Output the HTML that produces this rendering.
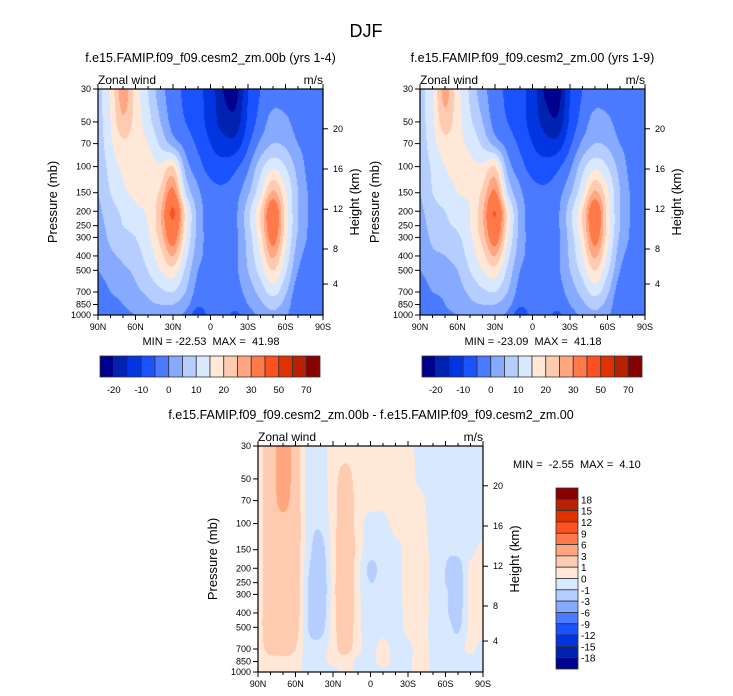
<!DOCTYPE html>
<html><head><meta charset="utf-8"><style>
html,body{margin:0;padding:0;background:#fff;}
#root{position:relative;width:733px;height:696px;overflow:hidden;font-family:"Liberation Sans",sans-serif;}
canvas{position:absolute;}
svg{position:absolute;left:0;top:0;}
</style></head><body>
<div id="root">
<canvas id="cA" width="225" height="226" style="left:98px;top:89px"></canvas>
<canvas id="cB" width="225" height="226" style="left:420px;top:89px"></canvas>
<canvas id="cD" width="225" height="226" style="left:258px;top:446px"></canvas>
<svg id="sv" width="733" height="696"></svg>
</div>
<script>
const lats=[90,80,70,60,50,40,30,20,10,0,-10,-20,-30,-40,-50,-60,-70,-80,-90];
const levels=[30,50,70,100,150,200,250,300,400,500,700,850,1000];
const windA=[
[ 8,16,28,18,10, 2,-3,-6,-9,-12,-20,-22,-10,-5,-3,-3,-3,-3,-3],
[ 8,15,24,18,12, 5,-2,-5,-8,-12,-17,-18,-9,-3, 2, 1,-2,-3,-3],
[ 7,14,19,17,15, 9, 3,-2,-6,-10,-13,-13,-6, 1, 5, 4, 0,-2,-3],
[ 6,12,16,17,17,16,20, 3,-3,-7,-8,-6,-1, 8,14,10, 3,-2,-3],
[ 5,10,14,16,17,21,32,10, 1,-3,-4,-2, 4,14,26,16, 5,-1,-3],
[ 4, 8,11,14,16,24,41,18, 3,-2,-3,-1, 8,20,36,18, 5,-1,-3],
[ 3, 7,10,12,15,24,38,18, 3,-2,-3,-1, 8,20,36,18, 5,-1,-3],
[ 2, 6, 8,10,14,22,34,16, 3,-2,-3,-1, 7,18,33,17, 4,-1,-3],
[ 1, 4, 6, 8,12,18,25,12, 2,-2,-3,-1, 6,15,26,14, 2,-2,-3],
[ 0, 2, 4, 6,10,15,18, 9, 0,-3,-3,-1, 5,12,20,11, 0,-4,-3],
[-2, 0, 2, 4, 6, 9,10, 5,-2,-3,-3,-2, 2, 7,12, 6,-3,-3,-3],
[-3,-2, 0, 2, 4, 5, 5, 2,-4,-3,-3,-3, 0, 4, 7, 3,-4,-3,-3],
[-4,-3,-1, 0, 1, 2, 1,-1,-8,-3,-3,-6,-2, 1, 4, 1,-4,-3,-3]];
const windB=[
[ 8,15,27,17, 9, 2,-3,-6,-9,-12,-21,-23,-10,-5,-3,-3,-3,-3,-3],
[ 8,14,23,17,11, 5,-2,-5,-8,-12,-17,-19,-9,-3, 2, 1,-2,-3,-3],
[ 7,13,18,16,14, 9, 3,-2,-6,-10,-13,-13,-6, 1, 5, 4, 0,-2,-3],
[ 6,11,15,16,16,16,20, 3,-3,-7,-8,-6,-1, 8,14,10, 3,-2,-3],
[ 5,10,13,15,16,21,31,10, 1,-3,-4,-2, 4,14,26,16, 5,-1,-3],
[ 4, 8,10,13,15,24,40,18, 3,-2,-3,-1, 8,20,36,18, 5,-1,-3],
[ 3, 7, 9,11,15,24,38,18, 3,-2,-3,-1, 8,20,36,18, 5,-1,-3],
[ 2, 6, 7, 9,14,22,34,16, 3,-2,-3,-1, 7,18,33,17, 4,-1,-3],
[ 1, 4, 5, 7,12,18,25,12, 2,-2,-3,-1, 6,15,26,14, 2,-2,-3],
[ 0, 2, 3, 5,10,15,18, 9, 0,-3,-3,-1, 5,12,20,11, 0,-4,-3],
[-2, 0, 1, 3, 6, 9,10, 5,-2,-3,-3,-2, 2, 7,12, 6,-3,-3,-3],
[-3,-2, 0, 2, 4, 5, 5, 2,-4,-3,-3,-3, 0, 4, 7, 3,-4,-3,-3],
[-4,-3,-1, 0, 1, 2, 1,-1,-8,-3,-3,-6,-2, 1, 4, 1,-4,-3,-3]];
const windDiff=[
[0.5,2,4,2,-0.5,-0.5,0.5,0.5,0.5,0.5,0.5,0.5,0.5,-0.5,-0.5,-0.5,-0.5,-0.5,-0.5],
[0.5,2,4,2,-0.5,-0.5,0.5,1.5,0.5,0.5,0.5,0.5,0.5,-0.3,-0.5,-0.5,-0.5,-0.5,-0.5],
[0.5,2,3.5,2,-0.5,-0.5,0.5,2,0.5,0.5,0.5,0.5,0.5,0.3,-0.5,-0.5,-0.5,-0.5,-0.5],
[0.5,2,2.5,2,-0.5,-0.8,0.5,2,0.5,-0.5,-0.5,0.5,0.5,0.5,-0.5,-0.5,-0.5,-0.5,-0.5],
[0.5,2,2,1.8,-0.5,-1.5,0.5,2.2,0.5,-0.5,-0.5,-0.5,0.5,0.5,-0.3,-0.8,-0.7,-0.3,0.3],
[0.5,2,2,1.8,-0.8,-1.8,0.5,2.4,0.3,-1.3,-0.5,-0.5,0.5,0.5,-0.3,-1,-1.5,0.3,0.5],
[0.5,2,2,1.8,-1,-2,0.5,2.5,0.3,-1,-0.5,-0.5,0.5,0.5,-0.3,-1,-1.6,0.3,0.5],
[0.5,2,2,1.8,-1,-2,0.5,2.5,0.3,-0.7,-0.5,-0.5,0.5,0.5,-0.3,-0.8,-1.6,0.3,0.5],
[0.5,2,2,1.8,-1,-1.8,0.5,2.3,0.3,-0.5,-0.5,-0.5,0.3,0.5,-0.3,-0.8,-1.5,0.3,0.5],
[0.5,2,2,1.6,-1,-1.5,0.5,2,0.3,-0.5,-0.5,-0.5,0.3,0.5,-0.3,-0.5,-1.2,0.3,0.5],
[0.5,1.5,1.8,1,-0.5,-0.5,0.5,1.5,0.3,-0.5,0.5,-0.5,-0.3,0.5,-0.3,-0.5,-0.5,0.3,-0.5],
[0.5,0.5,0.5,0.5,-0.5,-0.5,0.5,0.5,-0.3,-0.5,0.5,-0.5,-0.3,0.5,-0.3,-0.5,-0.5,-0.5,-0.5],
[0.5,0.5,0.5,0.5,-0.5,-0.5,-0.5,0.5,-0.3,-0.5,-0.3,-0.5,-0.3,0.5,-0.3,-0.5,-0.5,-0.5,-0.5]];
const topBounds=[-20,-15,-10,-5,0,5,10,15,20,25,30,40,50,60,70];
const topLabels=['-20','-10','0','10','20','30','50','70'];
const diffBounds=[-18,-15,-12,-9,-6,-3,-1,0,1,3,6,9,12,15,18];
const diffLabels=['18','15','12','9','6','3','1','0','-1','-3','-6','-9','-12','-15','-18'];
const palette=['#00008f','#0022b0','#0035e0','#1a52ff','#4a7aff','#86aaff','#b6ceff','#d8e8ff','#ffe8d8','#ffcbb0','#ffa580','#ff7a48','#ff5020','#e03200','#b82200','#880000'];
const xTickLabels=['90N','60N','30N','0','30S','60S','90S'];
const xTickVals=[90,60,30,0,-30,-60,-90];
const pTicks=[30,50,70,100,150,200,250,300,400,500,700,850,1000];
const hTicks=[4,8,12,16,20];
const hTickFrac=[0.863,0.708,0.532,0.354,0.176];
const stats=[['MIN = -22.53  MAX =  41.98'],['MIN = -23.09  MAX =  41.18'],['MIN =  -2.55  MAX =  4.10']];

const W=225,H=226,LP0=Math.log(30),LP1=Math.log(1000);
function yOf(p){return (Math.log(p)-LP0)/(LP1-LP0)*H;}
function xOf(lat){return (90-lat)/180*W;}
function hex(c){return [parseInt(c.substr(1,2),16),parseInt(c.substr(3,2),16),parseInt(c.substr(5,2),16)];}
function colorIdx(v,b){let i=0;while(i<b.length&&v>=b[i])i++;return i;}
function cr(p0,p1,p2,p3,t){return 0.5*((2*p1)+(-p0+p2)*t+(2*p0-5*p1+4*p2-p3)*t*t+(-p0+3*p1-3*p2+p3)*t*t*t);}
function drawField(id,grid,bounds){
  const cv=document.getElementById(id),ctx=cv.getContext('2d');
  const img=ctx.createImageData(W,H),pal=palette.map(hex);
  const lv=levels.map(p=>yOf(p));
  const nr=grid.length,nc=grid[0].length;
  const g=(r,c)=>grid[Math.max(0,Math.min(nr-1,r))][Math.max(0,Math.min(nc-1,c))];
  for(let py=0;py<H;py++){
    const y=py+0.5;let j=0;while(j<lv.length-2&&y>lv[j+1])j++;
    let fy=(y-lv[j])/(lv[j+1]-lv[j]);fy=Math.max(0,Math.min(1,fy));
    for(let px=0;px<W;px++){
      let fx=(px+0.5)/W*(nc-1);let i=Math.min(Math.floor(fx),nc-2);const tx=fx-i;
      const rows=[];
      for(let r=-1;r<=2;r++){rows.push(cr(g(j+r,i-1),g(j+r,i),g(j+r,i+1),g(j+r,i+2),tx));}
      const v=cr(rows[0],rows[1],rows[2],rows[3],fy);
      const c=pal[colorIdx(v,bounds)],k=(py*W+px)*4;
      img.data[k]=c[0];img.data[k+1]=c[1];img.data[k+2]=c[2];img.data[k+3]=255;
    }
  }
  ctx.putImageData(img,0,0);
}
drawField('cA',windA,topBounds);
drawField('cB',windB,topBounds);
drawField('cD',windDiff,diffBounds);

const NS='http://www.w3.org/2000/svg',sv=document.getElementById('sv');
function mk(tag,a,parent){const e=document.createElementNS(NS,tag);for(const k in a)e.setAttribute(k,a[k]);(parent||sv).appendChild(e);return e;}
function txt(s,x,y,size,anchor,name,extra){const t=mk('text',Object.assign({x:x,y:y,'font-size':size,'text-anchor':anchor||'middle',fill:'#000','font-family':'Liberation Sans, sans-serif'},extra||{}));t.textContent=s;


return t;}

function panel(x0,y0,title,statIdx,statX,statY,statAnchor){
  const g=mk('g',{});
  
  
  if(title){const t=txt(title,x0+W/2,y0-27,12.5,'middle','panel-title');g.appendChild(t);}
  g.appendChild(txt('Zonal wind',x0,y0-5,12,'start','variable-label'));
  g.appendChild(txt('m/s',x0+W,y0-5,12,'end','units-label'));
  const box=mk('rect',{x:x0,y:y0,width:W,height:H,fill:'none',stroke:'#000','stroke-width':1.2},g);
  
  
  for(let lat=90;lat>=-90;lat-=10){
    const x=x0+xOf(lat),major=(lat%30===0),len=major?5:3;
    const tb=mk('line',{x1:x,x2:x,y1:y0+H,y2:y0+H+len,stroke:'#000','stroke-width':1},g);
    
    
    const tt=mk('line',{x1:x,x2:x,y1:y0,y2:y0-len,stroke:'#000','stroke-width':1},g);
    
    
  }
  xTickVals.forEach((v,i)=>{g.appendChild(txt(xTickLabels[i],x0+xOf(v),y0+H+15,9,'middle','x-tick-label'));});
  pTicks.forEach(p=>{const y=y0+yOf(p);
    const l=mk('line',{x1:x0-5,x2:x0,y1:y,y2:y,stroke:'#000','stroke-width':1},g);
    
    
    g.appendChild(txt(String(p),x0-7,y+3,9,'end','y-tick-label'));});
  hTicks.forEach((h,i)=>{const y=y0+hTickFrac[i]*H;
    const l=mk('line',{x1:x0+W,x2:x0+W+5,y1:y,y2:y,stroke:'#000','stroke-width':1},g);
    
    
    g.appendChild(txt(String(h),x0+W+10,y+3,9,'start','height-tick-label'));});
  g.appendChild(txt('Pressure (mb)',0,0,13,'middle','y-axis-title',{transform:'translate('+(x0-41)+','+(y0+H/2)+') rotate(-90)'}));
  g.appendChild(txt('Height (km)',0,0,13,'middle','right-axis-title',{transform:'translate('+(x0+W+36)+','+(y0+H/2)+') rotate(-90)'}));
  g.appendChild(txt(stats[statIdx][0],statX,statY,11,statAnchor,'min-max-label',{'xml:space':'preserve',style:'white-space:pre'}));
}
txt('DJF',366,37,18,'middle','figure-title');
panel(98,89,'f.e15.FAMIP.f09_f09.cesm2_zm.00b (yrs 1-4)',0,211,345,'middle');
panel(420,89,'f.e15.FAMIP.f09_f09.cesm2_zm.00 (yrs 1-9)',1,533,345,'middle');
panel(258,446,null,2,513,468,'start');
txt('f.e15.FAMIP.f09_f09.cesm2_zm.00b - f.e15.FAMIP.f09_f09.cesm2_zm.00',371,419,12.5,'middle','difference-title');

function hbar(x0,y0){
  const w=220/16;
  palette.forEach((c,i)=>{const r=mk('rect',{x:x0+i*w,y:y0,width:w,height:21,fill:c,stroke:'#333','stroke-width':0.8});
    
    });
  topLabels.forEach((s,k)=>{txt(s,x0+(2*k+1)*w,y0+37,9.5,'middle','colorbar-label');});
}
hbar(100,356);hbar(422,356);
(function(){
  const x0=556,y0=488,h=181/16;
  palette.slice().reverse().forEach((c,i)=>{const r=mk('rect',{x:x0,y:y0+i*h,width:22,height:h,fill:c,stroke:'#333','stroke-width':0.8});
    
    });
  diffLabels.forEach((s,k)=>{txt(s,x0+25,y0+(k+1)*h+4,10,'start','diff-colorbar-label');});
})();
</script>
</body></html>
